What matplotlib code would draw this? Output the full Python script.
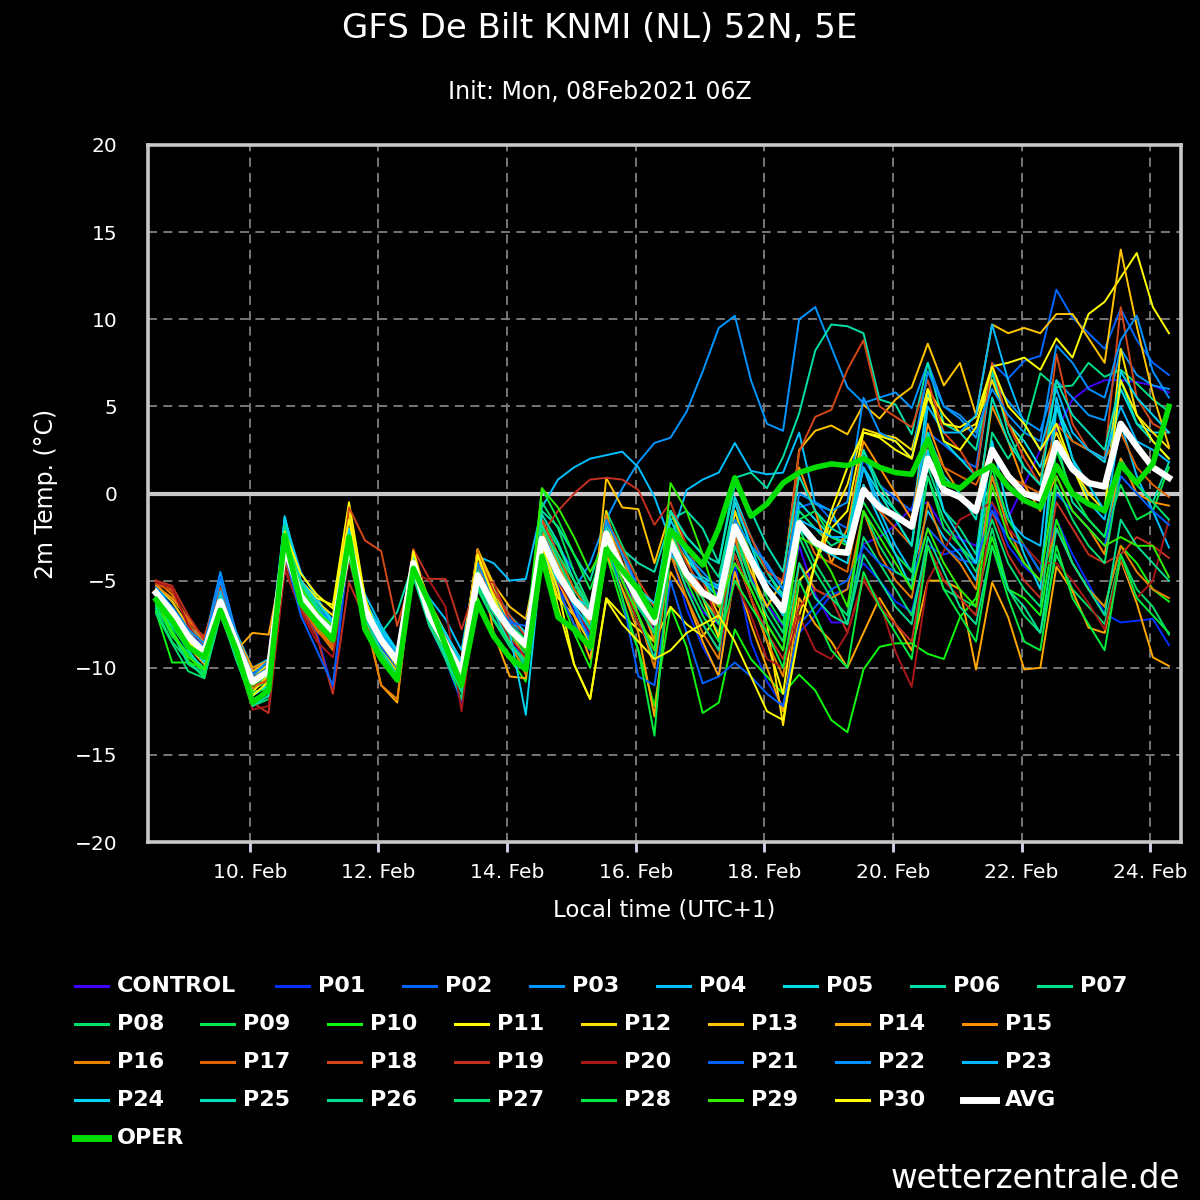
import matplotlib
matplotlib.use("Agg")
import matplotlib.pyplot as plt
import matplotlib.dates as mdates
from matplotlib.lines import Line2D
import pandas as pd
from datetime import datetime

# 6-hourly steps, first valid time Feb 8 13:00 local (init 06Z + 6h)
times = pd.date_range("2021-02-08 13:00", periods=64, freq="6h")

AVG = [-5.7, -6.8, -8.2, -9.1, -6.2, -8.6, -10.8, -10.2, -3.0, -5.9, -7.1, -8.0, -2.8, -6.7, -8.4, -9.6,
       -4.0, -7.0, -8.6, -10.3, -4.7, -6.5, -7.8, -8.7, -2.6, -4.6, -6.1, -7.1, -2.3, -4.4, -6.1, -7.4,
       -2.8, -4.6, -5.7, -6.2, -1.9, -3.8, -5.5, -6.7, -1.7, -2.8, -3.3, -3.4, 0.2, -0.8, -1.3, -1.9,
       2.0, 0.2, -0.2, -1.0, 2.5, 1.0, 0.0, -0.3, 2.9, 1.4, 0.6, 0.4, 4.0, 2.7, 1.5, 0.9]
OPER = [-6.1, -7.3, -8.8, -9.4, -6.7, -9.0, -12.0, -11.3, -2.4, -6.3, -7.4, -8.4, -2.5, -7.8, -9.5, -10.7,
        -4.3, -6.3, -8.7, -11.0, -6.3, -8.2, -9.4, -10.1, -3.6, -7.1, -7.8, -8.8, -3.2, -4.4, -5.5, -7.1,
        -2.1, -3.1, -4.1, -2.0, 0.9, -1.3, -0.6, 0.6, 1.2, 1.5, 1.7, 1.6, 2.0, 1.5, 1.2, 1.1,
        3.1, 0.6, 0.3, 1.1, 1.6, 0.4, -0.4, -0.8, 1.6, 0.0, -0.6, -1.0, 1.7, 0.6, 1.7, 5.0]

CONTROL = [-5.5, -6.6, -8.0, -9.2, -6.0, -8.8, -11.0, -10.6, -3.2, -6.0, -7.4, -8.5, -3.0, -6.9, -8.8, -10.0,
           -4.2, -7.2, -8.9, -10.6, -4.9, -6.8, -8.2, -9.3, -3.0, -5.2, -6.8, -8.0, -2.8, -5.0, -6.6, -7.8,
           -3.2, -5.4, -6.8, -7.5, -2.8, -4.8, -6.4, -7.6, -3.0, -5.8, -7.4, -7.4, -2.9, -2.5, -1.8, -0.8,
           -0.5, -2.0, -2.6, -3.0, -1.0, -1.4, 0.5, 2.5, 3.6, 5.4, 6.1, 6.5, 6.5, 6.4, 6.2, 5.8]
P01 = [-5.8, -7.0, -8.4, -9.4, -6.0, -8.8, -11.0, -10.5, -3.3, -6.4, -8.0, -11.3, -3.0, -7.2, -9.0, -10.2,
       -4.5, -7.6, -9.5, -12.0, -5.3, -7.2, -8.5, -9.5, -3.0, -5.5, -6.8, -8.2, -2.4, -5.0, -7.0, -9.5,
       -3.3, -6.6, -8.8, -10.4, -4.0, -8.5, -10.8, -12.2, -8.0, -7.0, -5.8, -5.5, -4.0, -5.0, -6.2, -6.8,
       -3.0, -3.5, -3.2, -4.0, -0.5, -3.0, -4.2, -5.0, -1.5, -3.5, -5.2, -6.9, -7.4, -7.3, -7.2, -8.7]
P02 = [-5.6, -6.5, -7.8, -8.6, -4.6, -8.0, -10.2, -9.8, -2.6, -5.5, -6.8, -7.8, -2.4, -6.4, -8.0, -9.3,
       -3.8, -6.8, -8.2, -9.8, -4.4, -6.0, -7.2, -8.0, -2.0, -3.0, -4.5, -6.5, -1.8, -3.2, -5.5, -7.0,
       -2.5, -3.8, -5.0, -5.8, -1.0, -2.5, -4.2, -5.5, -0.8, -0.5, -1.5, -2.0, 2.0, 0.5, -0.3, -1.0,
       3.5, 2.8, 2.0, 1.5, 7.5, 6.6, 7.6, 7.9, 11.7, 10.1, 9.2, 8.3, 10.6, 8.8, 7.5, 6.8]
P03 = [-5.6, -6.6, -7.8, -8.5, -4.5, -8.2, -10.4, -9.8, -2.8, -5.8, -7.0, -7.6, -2.7, -6.4, -8.3, -9.4,
       -3.8, -6.8, -8.4, -9.8, -4.3, -6.0, -7.3, -8.1, -2.0, -4.2, -5.5, -4.0, -1.5, 0.3, 1.8, 2.9,
       3.2, 4.7, 7.0, 9.5, 10.2, 6.5, 4.0, 3.6, 10.0, 10.7, 8.4, 6.1, 5.2, 5.5, 5.8, 4.9,
       7.5, 5.0, 4.3, 3.2, 6.5, 5.3, 4.2, 3.6, 6.5, 5.5, 4.5, 4.2, 8.3, 6.8, 6.2, 6.0]
P04 = [-5.4, -6.2, -7.6, -8.4, -5.5, -8.0, -10.0, -9.5, -1.5, -4.5, -6.0, -7.3, -2.4, -5.8, -7.6, -9.0,
       -4.2, -6.0, -7.2, -9.0, -3.6, -4.0, -5.0, -4.9, -0.8, 0.8, 1.5, 2.0, 2.2, 2.4, 1.5, -0.2,
       -2.7, 0.2, 0.8, 1.2, 2.9, 1.3, 1.1, 1.2, 3.5, -0.6, -1.0, -3.0, 1.5, -1.0, -3.0, -4.5,
       -1.0, -2.5, -3.5, -5.0, 1.0, -1.5, -2.5, -3.0, 5.5, 2.0, -0.5, -1.5, 4.0, 1.0, -1.0, -3.1]
P05 = [-5.9, -7.2, -8.5, -9.4, -6.0, -8.6, -11.0, -10.4, -1.4, -5.0, -6.5, -7.6, -2.6, -6.4, -8.0, -9.2,
       -3.7, -6.5, -8.0, -9.8, -3.6, -5.5, -7.0, -8.0, -2.4, -4.2, -5.6, -6.6, -1.8, -4.0, -5.6, -6.8,
       -2.2, -3.8, -4.8, -5.3, -0.2, -2.5, -4.5, -5.8, -0.5, -1.5, -2.5, -2.8, 1.5, 0.0, -1.0, -2.0,
       5.8, 3.0, 2.0, 1.0, 7.0, 4.0, 3.0, 1.5, 5.0, 3.0, 2.5, 1.8, 6.0, 4.0, 3.5, 3.5]
P06 = [-6.2, -7.4, -9.0, -10.2, -6.4, -8.8, -11.6, -11.0, -2.0, -5.4, -6.8, -7.6, -2.6, -6.5, -8.0, -6.8,
       -4.0, -6.4, -8.0, -9.8, -4.4, -6.2, -7.4, -8.4, -1.0, -1.9, -3.5, -5.0, -2.0, -3.2, -4.0, -4.5,
       -1.5, -1.0, -2.0, -4.0, 0.9, 1.2, 0.3, 2.1, 4.6, 8.2, 9.7, 9.6, 9.2, 5.4, 5.1, 3.4,
       7.5, 4.0, 3.5, 2.5, 7.0, 3.5, 1.5, 0.5, 3.0, -0.5, -1.5, -2.5, 2.0, 0.5, -0.5, 1.8]
P07 = [-6.5, -8.0, -9.2, -10.0, -6.5, -9.0, -11.5, -11.0, -2.2, -5.2, -6.4, -7.6, -2.9, -7.0, -8.7, -9.8,
       -4.2, -7.5, -9.0, -10.8, -5.0, -6.8, -8.0, -8.8, -1.5, -3.5, -5.5, -7.0, -2.5, -4.0, -5.4, -6.5,
       -1.0, -2.5, -3.5, -4.8, -0.5, -3.0, -4.5, -6.0, -1.0, -2.0, -3.0, -2.5, 2.5, 0.5, -1.0, -2.0,
       1.5, -1.0, -2.0, -3.5, 3.5, 2.0, 3.5, 6.9, 6.1, 6.2, 7.5, 6.7, 7.1, 6.3, 5.4, 4.7]
P08 = [-6.7, -8.5, -9.6, -10.5, -7.0, -9.4, -12.2, -11.8, -2.5, -5.8, -7.2, -8.2, -3.2, -7.4, -9.2, -10.5,
       -4.4, -7.5, -9.5, -11.8, -5.5, -7.3, -8.8, -10.0, -0.5, -2.0, -4.5, -6.5, -1.0, -3.0, -5.0, -8.5,
       -2.0, -4.5, -6.5, -8.0, -2.5, -5.0, -6.5, -8.0, -2.0, -4.0, -5.5, -7.5, -2.5, -4.0, -5.5, -7.0,
       -3.0, -5.5, -6.0, -6.5, -2.0, -5.5, -7.0, -8.0, -3.5, -5.5, -6.5, -7.5, -3.5, -5.5, -6.5, -8.1]
P09 = [-6.0, -7.8, -9.6, -10.6, -6.2, -8.6, -11.2, -10.8, -2.5, -5.6, -7.2, -8.0, -2.8, -6.8, -8.5, -9.8,
       -4.0, -7.2, -8.8, -10.5, -5.0, -6.8, -8.2, -9.2, -1.5, -3.0, -5.0, -7.5, -2.8, -5.5, -7.5, -9.0,
       -1.0, -3.5, -5.0, -6.5, -1.0, -3.5, -6.0, -7.5, -1.5, -1.0, -2.5, -3.0, -0.5, -2.0, -3.5, -4.5,
       1.0, -2.0, -3.0, -4.0, 1.5, -1.5, -3.0, -4.5, 2.5, 0.0, -1.5, -2.5, 0.5, -1.5, -1.0, 1.5]
P10 = [-6.8, -9.7, -9.7, -10.0, -5.8, -8.5, -11.0, -10.8, -3.0, -6.2, -7.8, -8.6, -3.3, -7.2, -8.8, -10.0,
       -4.4, -7.5, -9.2, -11.0, -6.0, -8.0, -9.5, -10.8, -2.5, -5.5, -8.0, -10.0, -3.5, -6.5, -9.0, -12.2,
       -6.5, -8.8, -12.6, -12.0, -7.8, -9.5, -10.5, -11.5, -10.4, -11.3, -13.0, -13.7, -10.1, -8.8, -8.6, -8.6,
       -9.2, -9.5, -7.1, -6.0, -2.5, -5.5, -6.0, -7.0, -1.5, -4.0, -5.5, -6.5, -3.0, -4.0, -5.5, -6.2]
P11 = [-5.8, -7.0, -8.3, -9.6, -6.4, -9.0, -11.4, -10.4, -2.6, -5.0, -6.0, -6.4, -0.5, -6.0, -8.8, -10.2,
       -3.8, -7.0, -8.6, -9.5, -3.5, -5.8, -7.8, -9.0, -2.5, -6.5, -9.8, -11.8, -6.0, -7.0, -7.8, -8.5,
       -6.5, -7.5, -8.2, -7.0, -3.5, -6.0, -8.5, -11.5, -5.0, -4.0, -2.0, -1.0, 3.5, 3.2, 2.5, 2.0,
       5.5, 4.0, 3.8, 4.4, 7.3, 7.5, 7.8, 7.1, 8.9, 7.8, 10.3, 11.0, 12.4, 13.8, 10.7, 9.2]
P12 = [-5.5, -6.6, -7.8, -8.9, -6.0, -8.4, -10.6, -9.8, -3.5, -5.0, -6.2, -7.0, -1.0, -6.4, -8.6, -9.8,
       -3.5, -6.2, -8.0, -9.6, -3.2, -5.5, -7.5, -9.0, -3.0, -6.0, -7.0, -8.6, -1.0, -5.0, -7.5, -8.5,
       -2.5, -3.8, -6.0, -8.3, -1.0, -4.0, -7.5, -13.3, -7.0, -4.0, -1.5, 0.5, 3.7, 3.4, 3.2, 2.5,
       6.0, 4.5, 3.5, 4.0, 6.5, 4.0, 2.5, 1.0, 3.5, 1.5, 0.0, -1.0, 8.3, 4.5, 3.5, 2.6]
P13 = [-5.2, -6.2, -7.6, -8.8, -5.8, -8.2, -10.2, -9.6, -3.6, -6.0, -7.4, -8.2, -3.0, -7.0, -9.0, -10.2,
       -3.5, -6.5, -8.5, -10.0, -3.2, -5.2, -6.5, -7.2, -2.5, -5.0, -7.0, -8.5, 0.9, -0.8, -0.9, -4.0,
       -1.0, -3.0, -5.0, -7.0, -2.0, -4.5, -6.5, -5.0, 2.5, 3.6, 3.9, 3.4, 5.1, 4.3, 5.4, 6.1,
       8.6, 6.2, 7.5, 4.5, 9.7, 9.2, 9.5, 9.2, 10.3, 10.3, 8.9, 7.5, 14.0, 9.6, 5.7, 2.7]
P14 = [-5.6, -7.2, -8.8, -9.8, -6.5, -9.0, -8.0, -8.1, -3.4, -6.0, -7.5, -8.4, -3.2, -7.0, -11.0, -12.0,
       -4.0, -7.6, -9.2, -11.0, -3.3, -8.0, -10.5, -10.6, -2.0, -5.0, -7.0, -9.5, -3.5, -5.5, -8.0, -12.8,
       -4.5, -6.0, -8.5, -10.5, -4.5, -7.5, -10.0, -12.5, -6.0, -7.5, -8.5, -10.0, -8.0, -6.0, -7.5, -9.0,
       -5.0, -5.0, -5.5, -10.1, -5.1, -7.1, -10.1, -10.0, -4.2, -5.6, -7.7, -8.0, -3.8, -6.3, -9.4, -9.9]
P15 = [-5.3, -6.0, -7.2, -8.4, -5.0, -8.2, -10.0, -9.6, -3.4, -6.2, -7.6, -8.8, -3.1, -6.8, -8.6, -9.7,
       -3.2, -6.5, -8.3, -10.0, -4.5, -6.3, -7.8, -9.6, -1.8, -4.0, -6.0, -7.5, -1.4, -3.5, -6.0, -8.5,
       -3.5, -5.0, -6.0, -7.2, -1.5, -3.5, -5.5, -6.5, 1.5, -1.0, -4.0, -2.0, 3.0, 1.5, 0.0, -1.5,
       4.0, 1.5, 0.0, -1.0, 5.0, 3.0, 0.5, -1.0, 1.0, -1.0, -2.0, -3.5, 2.0, 0.0, -0.5, -0.7]
P16 = [-5.0, -5.8, -7.2, -8.6, -5.8, -8.8, -11.2, -10.6, -3.8, -6.4, -7.8, -9.0, -3.4, -7.2, -11.0, -11.8,
       -4.3, -7.4, -9.0, -10.8, -3.2, -6.5, -8.5, -10.4, -2.5, -5.5, -7.5, -9.0, -1.2, -4.0, -7.0, -10.0,
       -3.5, -6.0, -8.0, -9.5, -2.5, -6.0, -8.5, -10.5, -4.0, -5.5, -6.0, -5.5, -1.0, -3.5, -5.0, -6.0,
       -0.5, -3.0, -4.0, -5.5, 1.0, -2.0, -4.0, -5.0, -2.0, -4.0, -5.5, -6.5, -3.0, -4.5, -5.5, -6.0]
P17 = [-5.0, -5.5, -7.5, -8.8, -5.5, -8.4, -10.8, -10.4, -3.8, -6.4, -7.9, -8.8, -2.5, -6.6, -8.4, -9.4,
       -4.1, -7.2, -8.8, -10.4, -4.0, -6.5, -7.5, -8.5, -1.5, -3.5, -5.5, -6.8, -2.0, -4.0, -6.0, -8.0,
       -3.0, -4.5, -5.5, -6.5, -2.5, -4.0, -5.5, -7.0, -1.5, -3.5, -4.0, -4.5, 0.5, -1.0, -2.0, -3.0,
       3.0, 1.5, 1.0, 0.5, 2.5, 1.0, 0.5, 0.0, 4.0, 3.0, 2.5, 2.0, 3.5, 1.5, 0.5, -0.2]
P18 = [-5.2, -5.6, -7.4, -8.2, -5.4, -8.5, -11.0, -10.8, -3.6, -6.2, -7.6, -8.6, -0.8, -2.7, -3.3, -7.6,
       -4.4, -6.8, -8.0, -9.8, -3.5, -5.6, -7.0, -8.2, -1.5, -3.5, -5.0, -6.5, -1.5, -3.2, -5.0, -6.5,
       -2.0, -4.0, -5.5, -6.5, -0.5, -2.5, -4.5, -5.0, 2.4, 4.4, 4.8, 7.1, 8.8, 5.0, 4.4, 3.8,
       6.5, 3.5, 2.5, 1.0, 7.5, 4.0, 2.0, 0.5, 8.0, 4.0, 2.5, 2.0, 10.7, 5.5, 4.0, 3.5]
P19 = [-5.0, -5.3, -7.0, -8.4, -7.0, -9.0, -12.0, -12.6, -4.4, -6.6, -8.2, -11.5, -5.1, -7.2, -8.8, -10.0,
       -3.2, -4.9, -4.9, -7.8, -5.0, -5.1, -7.4, -8.6, -2.3, -1.0, 0.0, 0.8, 0.9, 0.8, 0.2, -1.8,
       -0.5, -3.0, -5.0, -7.5, -3.5, -6.0, -8.0, -9.5, -6.5, -5.5, -6.0, -8.0, -5.0, -6.5, -7.5, -8.5,
       -3.0, -5.0, -6.0, -7.0, -1.0, -3.5, -5.0, -6.0, -0.5, -2.0, -3.5, -4.0, -3.5, -2.5, -3.0, -3.7]
P20 = [-5.1, -5.4, -7.6, -9.0, -6.6, -9.2, -12.4, -12.2, -4.2, -6.8, -8.5, -9.4, -3.8, -7.5, -9.5, -10.5,
       -4.5, -5.0, -6.5, -12.5, -5.2, -6.9, -8.3, -9.4, -2.5, -5.0, -6.5, -8.0, -2.0, -5.0, -7.5, -9.0,
       -3.0, -5.5, -7.5, -9.0, -5.0, -7.0, -9.5, -10.0, -7.0, -9.0, -9.5, -8.0, -4.8, -6.2, -9.1, -11.1,
       -5.0, -3.3, -1.5, -1.0, -0.5, -2.0, -3.0, -4.0, -4.0, -5.0, -6.3, -7.8, -3.7, -6.0, -5.0, -1.5]
P21 = [-5.6, -6.8, -8.0, -8.8, -4.8, -8.4, -10.6, -10.0, -3.4, -7.0, -9.0, -11.0, -2.9, -7.0, -8.8, -10.0,
       -3.8, -7.0, -8.9, -10.8, -4.6, -6.4, -7.4, -7.6, -3.0, -5.5, -7.5, -9.0, -2.5, -6.0, -10.5, -11.0,
       -5.0, -8.0, -10.9, -10.5, -9.7, -10.5, -11.5, -12.2, -7.5, -6.5, -5.5, -5.0, -3.0, -4.0, -4.5, -5.0,
       -2.0, -3.0, -3.8, -4.0, -1.0, -2.5, -3.0, -4.5, 0.0, -1.0, -2.0, -3.0, 1.0, 0.0, -1.0, -1.8]
P22 = [-5.4, -6.5, -7.8, -8.6, -5.0, -8.2, -10.4, -9.6, -2.2, -5.4, -6.6, -7.4, -2.5, -6.5, -8.0, -9.3,
       -3.7, -6.8, -8.4, -10.0, -4.0, -6.0, -7.5, -8.5, -3.5, -4.5, -6.5, -8.5, -1.5, -3.5, -5.5, -7.0,
       -2.0, -3.5, -4.5, -5.5, -1.5, -3.0, -4.0, -5.5, 0.0, -0.5, -1.0, -0.5, 5.5, 3.5, 3.0, 2.0,
       7.0, 5.0, 4.5, 3.5, 6.0, 4.5, 3.5, 3.0, 8.5, 7.5, 6.0, 5.5, 8.8, 10.2, 7.0, 5.5]
P23 = [-5.9, -7.0, -8.4, -9.5, -5.6, -8.6, -10.8, -10.0, -2.6, -5.8, -6.8, -7.8, -2.0, -6.2, -8.0, -9.0,
       -4.1, -6.6, -8.0, -9.6, -4.8, -6.6, -8.0, -9.0, -2.8, -4.8, -6.4, -7.8, -2.4, -4.4, -6.5, -7.5,
       -3.5, -4.5, -5.0, -5.5, -2.0, -3.5, -5.0, -6.0, -1.5, -2.0, -2.5, -2.5, 1.5, -0.5, -1.5, -3.0,
       5.0, 3.5, 3.5, 4.5, 9.7, 6.5, 4.0, 2.5, 6.0, 3.5, 2.5, 2.0, 5.0, 3.0, 2.5, 1.8]
P24 = [-6.0, -7.2, -8.6, -9.7, -5.8, -8.8, -11.6, -11.0, -1.3, -5.0, -6.2, -7.4, -2.0, -6.2, -7.8, -9.0,
       -3.6, -6.4, -8.0, -9.8, -4.5, -6.5, -8.0, -12.7, -3.5, -5.0, -6.0, -6.5, -2.8, -4.5, -5.5, -6.3,
       -1.5, -3.5, -5.0, -6.0, -0.5, -3.0, -5.5, -7.0, -2.0, -3.0, -3.5, -4.0, 0.5, -1.5, -3.5, -5.5,
       2.5, -1.0, -2.5, -4.0, 3.0, -1.0, -3.5, -5.5, 5.0, 2.0, 0.5, -1.0, 7.0, 5.5, 4.5, 3.5]
P25 = [-6.3, -7.6, -9.0, -10.2, -6.6, -9.4, -12.2, -11.6, -2.4, -5.6, -7.0, -8.2, -3.0, -6.6, -8.2, -9.4,
       -4.0, -7.2, -9.2, -11.0, -4.8, -6.8, -8.6, -9.8, -1.2, -2.8, -5.0, -6.8, -2.0, -4.5, -6.5, -8.0,
       -1.0, -2.5, -3.5, -4.0, 0.5, -1.0, -3.0, -4.5, 1.0, -1.0, -2.0, -2.5, 2.5, 0.0, -1.5, -3.0,
       3.5, 1.0, 0.0, -1.5, 5.5, 3.0, 1.5, 0.5, 6.5, 4.5, 3.5, 2.5, 6.5, 4.0, 3.0, 2.0]
P26 = [-6.6, -8.0, -9.8, -10.4, -6.8, -9.6, -12.0, -11.4, -1.8, -5.2, -6.6, -7.8, -3.4, -7.2, -9.0, -10.4,
       -4.8, -7.6, -9.4, -11.4, -5.2, -6.9, -7.8, -8.8, -1.8, -3.8, -5.8, -7.8, -3.0, -5.0, -7.0, -9.5,
       -3.0, -5.5, -7.5, -9.0, -3.0, -5.5, -7.5, -9.0, -4.0, -6.0, -7.0, -7.5, -3.5, -5.0, -6.5, -7.5,
       -2.5, -4.5, -6.5, -7.5, -3.0, -5.5, -6.5, -8.0, -2.0, -4.0, -5.5, -7.0, -1.5, -3.0, -4.0, -5.0]
P27 = [-6.9, -8.6, -10.2, -10.6, -7.0, -9.2, -11.8, -11.4, -2.8, -6.0, -7.4, -8.4, -3.0, -6.8, -8.6, -9.8,
       -4.6, -7.4, -9.0, -10.6, -5.4, -7.2, -8.6, -9.6, -2.0, -3.5, -5.0, -6.5, -2.6, -4.5, -6.5, -8.0,
       -2.0, -4.5, -6.0, -7.5, -2.0, -5.0, -7.0, -8.5, -2.5, -4.5, -6.0, -7.0, -1.0, -3.0, -4.5, -5.0,
       1.0, -1.5, -3.0, -4.5, -1.5, -4.0, -5.5, -6.5, 0.5, -1.5, -3.0, -4.0, 1.5, 0.5, -0.5, -1.5]
P28 = [-6.4, -8.2, -9.2, -10.4, -6.0, -9.0, -11.4, -11.2, -2.9, -6.0, -7.6, -8.4, -3.6, -7.6, -9.4, -10.8,
       -4.3, -6.9, -8.5, -10.2, -4.5, -6.4, -7.6, -8.4, 0.3, -1.5, -3.5, -5.5, -3.0, -6.0, -9.0, -13.9,
       -3.0, -5.0, -7.0, -8.5, -5.0, -6.5, -8.0, -10.0, -5.0, -7.0, -9.0, -10.0, -4.5, -6.5, -8.0, -9.5,
       -3.0, -5.5, -7.0, -8.5, -3.0, -6.0, -8.5, -9.0, -3.0, -6.0, -7.5, -9.0, -3.5, -6.0, -7.0, -8.0]
P29 = [-6.1, -8.0, -9.4, -10.1, -6.6, -9.0, -11.0, -10.4, -2.4, -5.4, -6.8, -7.6, -2.6, -6.6, -8.4, -9.5,
       -4.0, -7.0, -8.6, -10.0, -4.8, -6.6, -8.0, -9.0, 0.3, -0.8, -2.5, -4.5, -2.8, -5.0, -7.0, -9.0,
       0.6, -1.0, -3.5, -6.5, -4.0, -5.5, -7.5, -9.0, -2.5, -3.0, -4.5, -6.5, -1.0, -2.5, -4.0, -5.5,
       -2.0, -4.0, -5.5, -6.5, 0.5, -2.5, -4.0, -5.0, 1.0, -1.0, -2.0, -3.0, -2.5, -3.0, -3.0, -4.8]
P30 = [-5.5, -6.8, -8.5, -9.4, -6.2, -9.0, -11.6, -10.8, -2.2, -4.6, -5.8, -6.6, -1.5, -6.0, -8.6, -9.9,
       -3.3, -6.8, -8.4, -10.0, -3.5, -6.0, -7.8, -8.5, -3.0, -5.5, -9.8, -11.8, -6.1, -7.5, -8.5, -9.5,
       -9.0, -8.0, -7.5, -7.0, -8.5, -10.5, -12.5, -13.0, -8.0, -4.0, -1.0, 1.5, 3.5, 3.3, 3.0, 2.0,
       6.0, 3.0, 2.5, 3.8, 7.3, 5.0, 4.0, 2.5, 4.0, 1.5, -0.5, -1.0, 6.5, 4.5, 3.0, 2.0]

member_labels = ["CONTROL"] + ["P%02d" % k for k in range(1, 31)]
member_values = [CONTROL, P01, P02, P03, P04, P05, P06, P07, P08, P09, P10,
                 P11, P12, P13, P14, P15, P16, P17, P18, P19, P20,
                 P21, P22, P23, P24, P25, P26, P27, P28, P29, P30]
member_colors = ["#4000ff", "#0030ff", "#0066ff", "#0095ff", "#00c0ff", "#00dce8", "#00e0a8", "#00e088",
                 "#00e068", "#00e848", "#10f810", "#ffff00", "#ffe000", "#ffc400", "#ffa800", "#ff9000",
                 "#e88000", "#e06400", "#d44818", "#c43020", "#a81818", "#0060ff", "#0090ff", "#00b8ff",
                 "#00d4f0", "#00e0b8", "#00e090", "#00e070", "#00ec40", "#30f000", "#ffff00"]

fig = plt.figure(figsize=(12, 12), dpi=100, facecolor="black")
ax = fig.add_axes([148 / 1200, 1 - 842 / 1200, (1181 - 148) / 1200, (842 - 145) / 1200])
ax.set_facecolor("black")

for vals, col in zip(member_values, member_colors):
    ax.plot(times, vals, color=col, lw=1.4, zorder=3)
ax.plot(times, AVG, color="white", lw=4.6, zorder=5)
ax.plot(times, OPER, color="#00dd00", lw=4.0, zorder=6)

ax.axhline(0, color="#c8c8c8", lw=3, zorder=2)

ax.set_xlim(datetime(2021, 2, 8, 10, 0), datetime(2021, 2, 24, 11, 30))
ax.set_ylim(-20, 20)
ax.set_yticks(range(-20, 21, 5))
ax.set_yticklabels(["\u221220", "\u221215", "\u221210", "\u22125", "0", "5", "10", "15", "20"])
ax.xaxis.set_major_locator(mdates.DayLocator(bymonthday=[10, 12, 14, 16, 18, 20, 22, 24]))
ax.xaxis.set_major_formatter(mdates.DateFormatter("%d. %b"))

ax.grid(True, color="#808080", linestyle=(0, (5, 3.5)), lw=1.3, zorder=1)
for s in ax.spines.values():
    s.set_color("#c8c8c8")
    s.set_linewidth(2.6)
ax.tick_params(axis="x", colors="#d8d8f0", length=7, width=2, direction="out",
               labelcolor="white", labelsize=14.5, pad=8)
ax.tick_params(axis="y", length=0, labelcolor="white", labelsize=14.5, pad=22)

ax.set_ylabel("2m Temp. (\u00b0C)", color="white", fontsize=17, labelpad=12)
ax.set_xlabel("Local time (UTC+1)", color="white", fontsize=16.5, labelpad=12)

fig.text(0.5, 1 - 28 / 1200, "GFS De Bilt KNMI (NL) 52N, 5E", color="white",
         fontsize=24.5, ha="center", va="center")
fig.text(0.5, 1 - 92 / 1200, "Init: Mon, 08Feb2021 06Z", color="white",
         fontsize=17, ha="center", va="center")

# legend laid out in rows like the original
leg_labels = member_labels + ["AVG", "OPER"]
leg_colors = member_colors + ["white", "#00dd00"]
leg_widths = [2.2] * 31 + [5, 5]
row1_x = [117, 318, 445, 572, 699, 826, 953, 1080]
rowx = [117, 243, 370, 497, 624, 751, 878, 1005]
row_y = [986, 1024, 1062, 1100, 1138]
for k, (lab, col, w) in enumerate(zip(leg_labels, leg_colors, leg_widths)):
    r, c = divmod(k, 8)
    tx = row1_x[c] if r == 0 else rowx[c]
    ty = 1 - row_y[r] / 1200
    fig.add_artist(Line2D([(tx - 42) / 1200, (tx - 9) / 1200], [ty, ty],
                          color=col, lw=w, transform=fig.transFigure))
    fig.text(tx / 1200, ty, lab, color="white", fontsize=16, fontweight="bold",
             ha="left", va="center")

fig.text(1180 / 1200, 1 - 1178 / 1200, "wetterzentrale.de", color="white",
         fontsize=23.5, ha="right", va="center")

fig.savefig("out.png", dpi=100, facecolor="black")
